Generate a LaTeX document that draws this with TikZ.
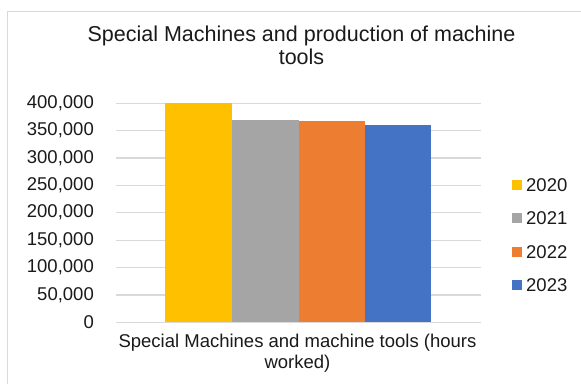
\documentclass[tikz,border=0pt]{standalone}
\usepackage{fontspec}
\setmainfont{Liberation Sans}
\definecolor{gridc}{HTML}{D9D9D9}
\definecolor{c2020}{HTML}{FFC000}
\definecolor{c2021}{HTML}{A5A5A5}
\definecolor{c2022}{HTML}{ED7D31}
\definecolor{c2023}{HTML}{4472C4}
\definecolor{txt}{HTML}{1A1A1A}
\tikzset{
  lbl/.style={inner sep=0pt, text=txt, font=\fontsize{18.5}{21}\selectfont},
  ttl/.style={inner sep=0pt, text=txt, font=\fontsize{21.5}{23}\selectfont},
  gridline/.style={draw=gridc, line width=1.2pt},
  barbox/.style={inner sep=0pt, draw=none, anchor=south west},
  legsq/.style={inner sep=0pt, minimum size=10pt, draw=none},
}
\begin{document}
\begin{tikzpicture}[x=1pt,y=-1pt]
\useasboundingbox (0,0) rectangle (581,383);
\fill[white] (0,0) rectangle (581,383);
% chart border (left and top visible)
\draw[draw=gridc, line width=1.2pt] (7.7,390) -- (7.7,11.7) -- (590,11.7);
% title
\node[ttl, anchor=base] (t1) at (301.5,41) {Special Machines and production of machine};
\node[ttl, anchor=base] (t2) at (301.5,64) {tools};
% gridlines and labels
\foreach \k/\lab in {0/0,1/{50,000},2/{100,000},3/{150,000},4/{200,000},5/{250,000},6/{300,000},7/{350,000},8/{400,000}}{
  \coordinate (gl\k) at (116,{322.3-27.4*\k});
  \coordinate (gr\k) at (481,{322.3-27.4*\k});
  \draw[gridline] (gl\k) -- (gr\k);
  \node[lbl, anchor=east] (y\k) at (94,{322.3-27.4*\k}) {\lab};
}
% bars
\fill[c2020] (165,322.3) rectangle (232,{322.3-27.4*8});
\fill[c2021] (232,322.3) rectangle (298.5,{322.3-27.4*369/50});
\fill[c2022] (298.5,322.3) rectangle (364.5,{322.3-27.4*367.3/50});
\fill[c2023] (364.5,322.3) rectangle (431,{322.3-27.4*360/50});
\draw[gridline] (gl0) -- (gr0);
% axis title
\node[lbl, anchor=base] (x1) at (297.5,347.5) {Special Machines and machine tools (hours};
\node[lbl, anchor=base] (x2) at (297.5,368.5) {worked)};
% legend
\foreach \i/\yr in {0/2020,1/2021,2/2022,3/2023}{
  \node[legsq, fill=c\yr] (sq\yr) at (517,{185+33.33*\i}) {};
  \node[lbl, anchor=west] (lg\yr) at (526,{185+33.33*\i}) {\yr};
}
\end{tikzpicture}
\end{document}
